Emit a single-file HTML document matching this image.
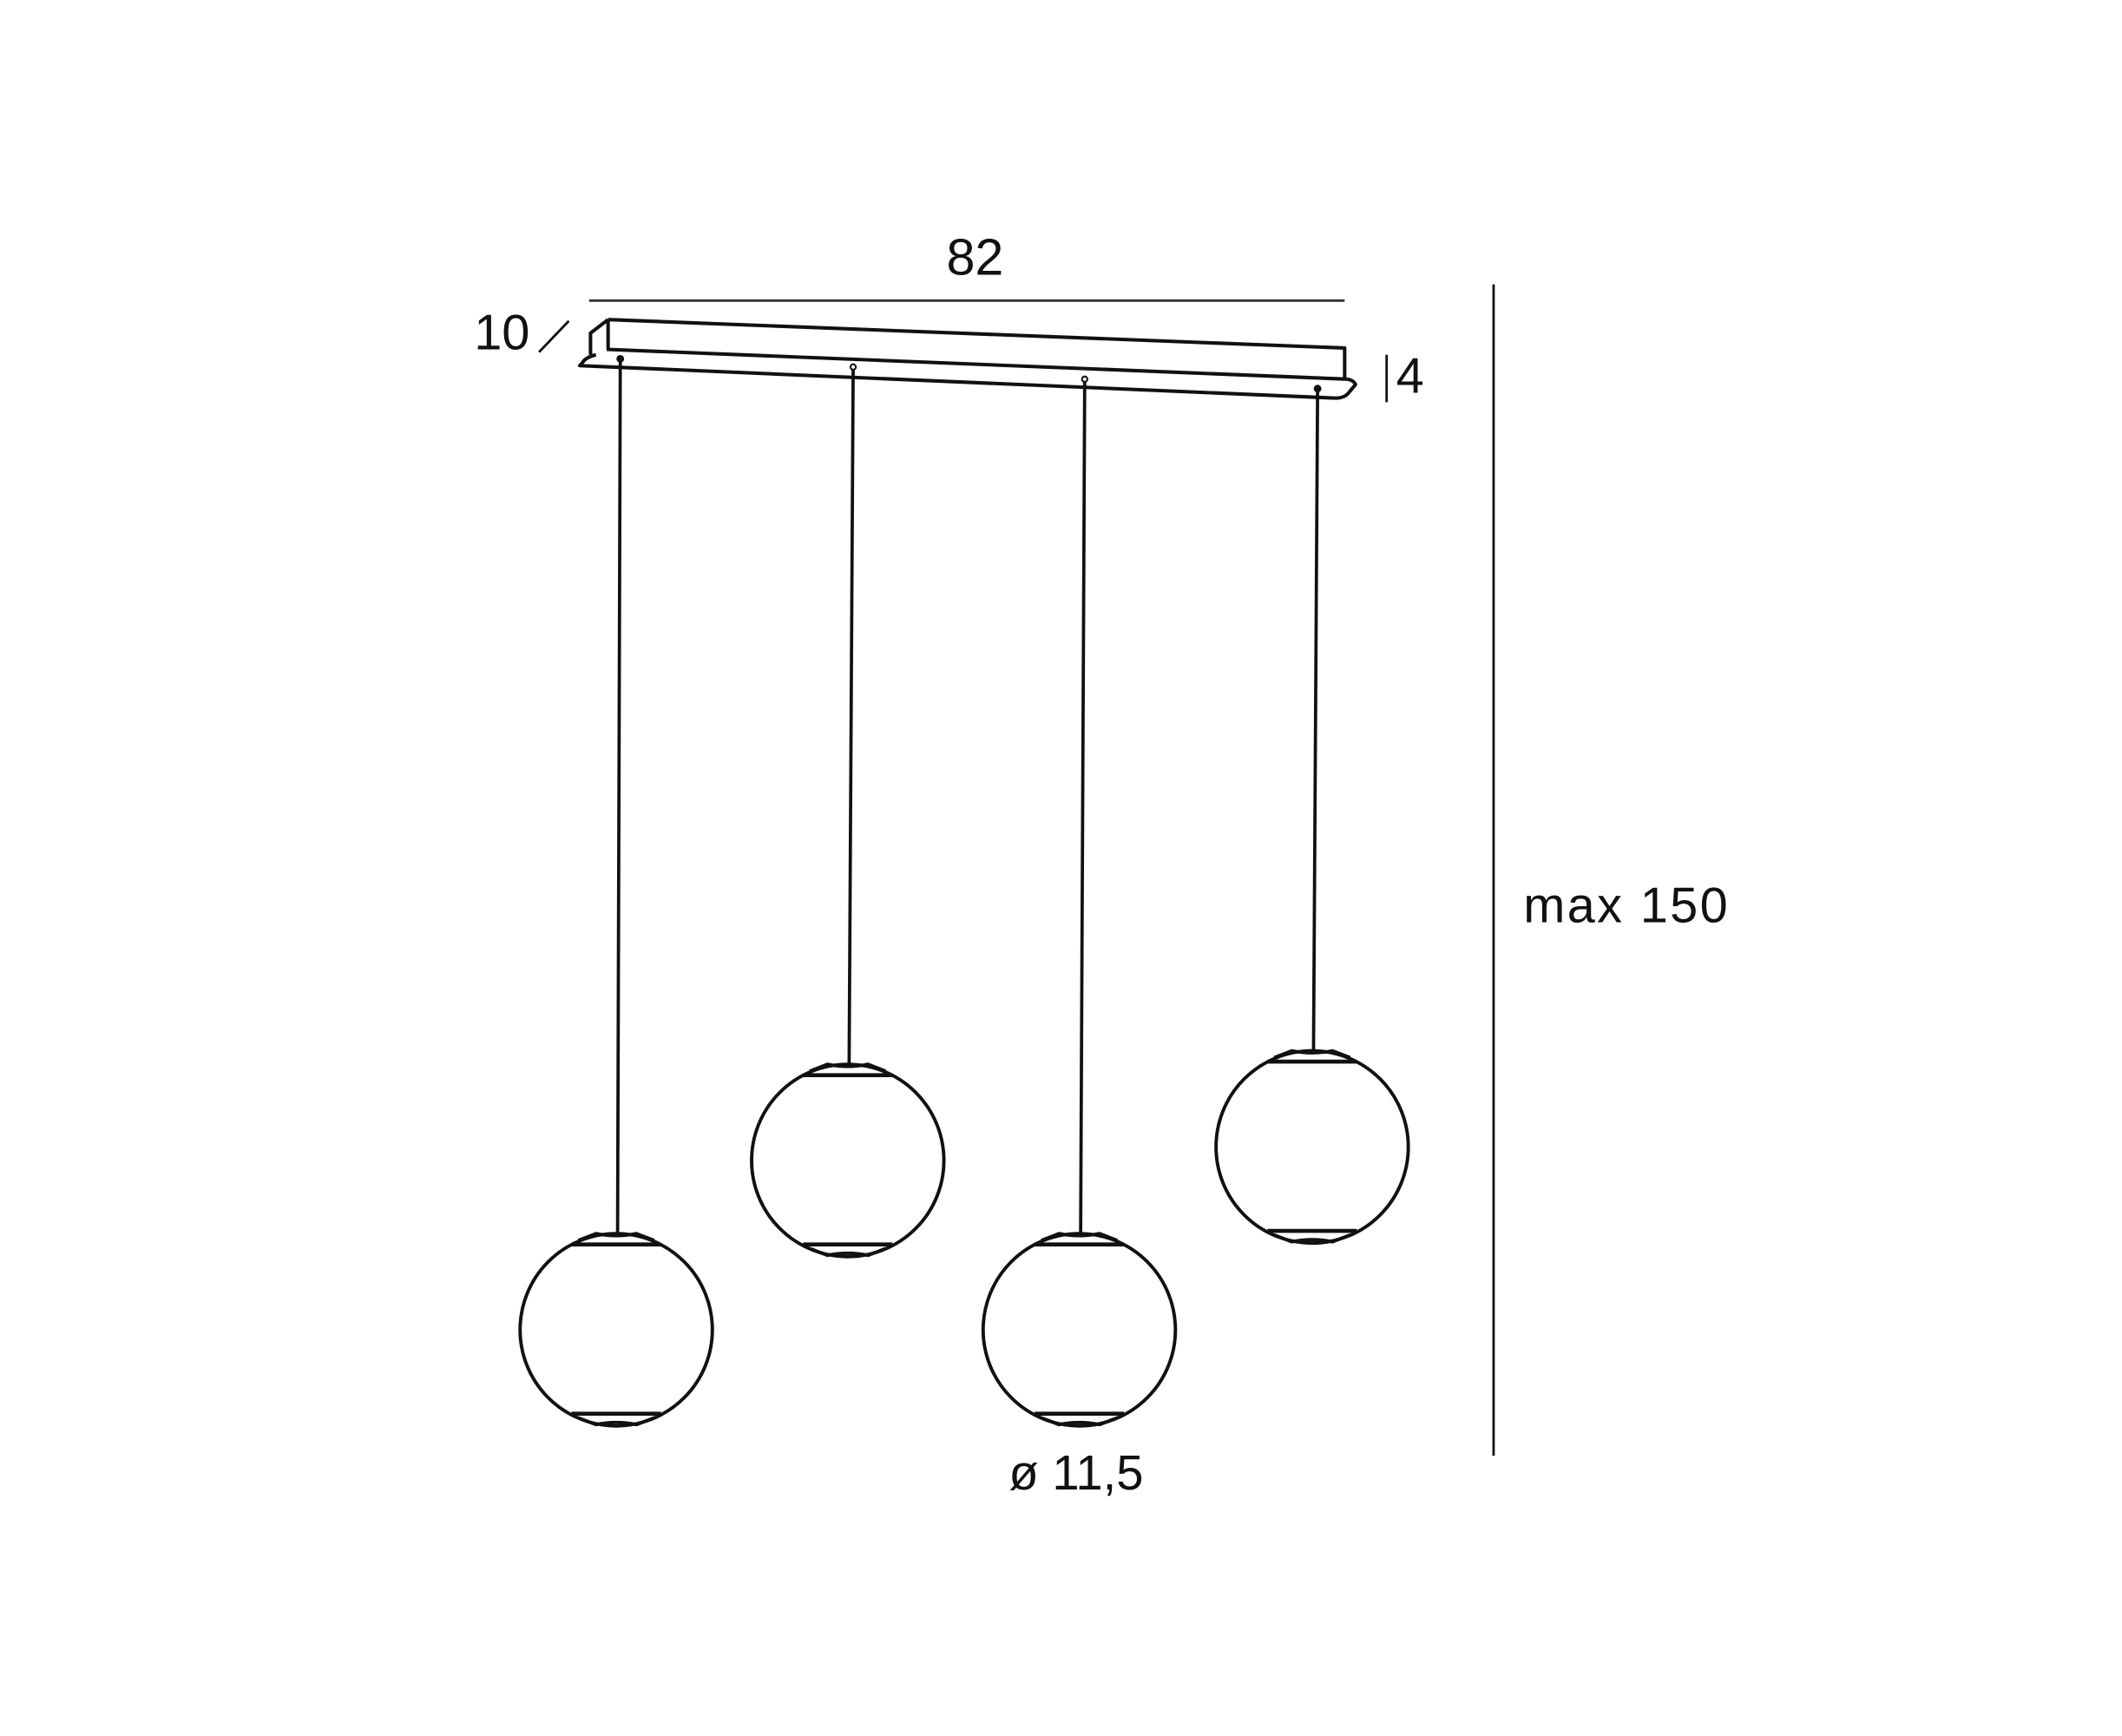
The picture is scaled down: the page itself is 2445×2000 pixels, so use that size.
<!DOCTYPE html>
<html><head><meta charset="utf-8"><style>
html,body{margin:0;padding:0;background:#fff;}
svg{display:block;}
text{font-family:"Liberation Sans",sans-serif;fill:#111;}
</style></head><body>
<svg width="2445" height="2000" viewBox="0 0 1567 1282" xmlns="http://www.w3.org/2000/svg">
<rect width="1567" height="1282" fill="#fff"/>
<defs>
<g id="globe" fill="none" stroke="#111" stroke-width="2.5">
  <circle cx="0" cy="0" r="71"/>
  <line x1="-33" y1="-63" x2="33" y2="-63" stroke-width="3"/>
  <path d="M-28,-66 L-15,-71 Q0,-68 15,-71 L28,-66"/>
  <line x1="-33" y1="62" x2="33" y2="62" stroke-width="3"/>
  <path d="M-28,65 L-15,70 Q0,67 15,70 L28,65"/>
</g>
</defs>
<line x1="435" y1="222" x2="993" y2="222" stroke="#333" stroke-width="1.8"/>
<text x="720" y="203" font-size="38" text-anchor="middle">82</text>
<text x="350" y="258" font-size="37">10</text>
<line x1="398" y1="260" x2="420" y2="237" stroke="#111" stroke-width="1.8"/>
<line x1="1024" y1="262" x2="1024" y2="297" stroke="#111" stroke-width="1.8"/>
<text x="1031" y="290" font-size="37">4</text>
<line x1="1103" y1="210" x2="1103" y2="1075" stroke="#111" stroke-width="1.8"/>
<text x="1125" y="681" font-size="37" letter-spacing="1.5">max 150</text>
<text x="745" y="1100" font-size="36">ø 11,5</text>
<g fill="none" stroke="#111" stroke-width="2.6" stroke-linejoin="round">
  <path d="M449,236 L993,257 L993,280"/>
  <path d="M449,236 L449,258"/>
  <path d="M449,236 L436,246 L436,262"/>
  <path d="M448,258 L995,280"/>
  <path d="M440,262 Q432,264 430,268 L428,270 L986,294 Q993,294 996,290 L1001,284 Q1000,281 995,280"/>
</g>
<g stroke="#111" stroke-width="2.4">
  <line x1="458" y1="266" x2="456" y2="913"/>
  <line x1="630" y1="272" x2="627" y2="788"/>
  <line x1="801" y1="281" x2="798" y2="912"/>
  <line x1="973" y1="288" x2="970" y2="777"/>
</g>
<g fill="#fff" stroke="#111" stroke-width="1.3">
  <circle cx="458" cy="265" r="2.2" fill="#111"/>
  <circle cx="630" cy="271" r="2"/>
  <circle cx="801" cy="280" r="2"/>
  <circle cx="973" cy="287" r="2.2" fill="#111"/>
</g>
<use href="#globe" x="455" y="982"/>
<use href="#globe" x="626" y="857"/>
<use href="#globe" x="797" y="982"/>
<use href="#globe" x="969" y="847"/>
</svg>
</body></html>
